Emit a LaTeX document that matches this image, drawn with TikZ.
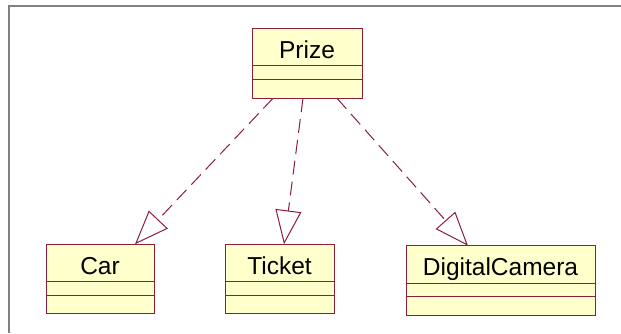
\documentclass[tikz,border=0pt]{standalone}
\usepackage{fontspec}
\setmainfont{Liberation Sans}
\usetikzlibrary{positioning,arrows.meta}
\definecolor{rose}{RGB}{140,30,60}
\definecolor{pad}{RGB}{255,255,204}
\tikzstyle{cls}=[fill=pad, draw=rose, shape=rectangle, line width=1pt, inner sep=0pt, outer sep=0pt]
\tikzstyle{clstop}=[cls, minimum height=37.5pt, text height=22pt, text depth=0pt, font=\fontsize{24.5}{28}\selectfont]
\tikzstyle{clsslot}=[cls, minimum height=13.5pt]
\tikzstyle{gen}=[draw=rose, line width=1pt, dash pattern=on 14pt off 7pt, -{Triangle[open, length=34pt, width=26pt]}]

\begin{document}
\begin{tikzpicture}[x=1pt, y=-1pt]
		\useasboundingbox (0, 0) rectangle (621, 333);
		\fill [white] (0, 0) rectangle (621, 333);
		\draw [gray, line width=1.5pt] (9, 333) -- (9, 6) -- (621, 6);

		\node [style=clstop, minimum width=110pt] (1) at (307, 47) {Prize};
		\node [style=clsslot, minimum width=110pt, below=0pt of 1] (2) {};
		\node [style=clsslot, minimum width=110pt, minimum height=19pt, below=0pt of 2] (3) {};

		\node [style=clstop, minimum width=108pt] (4) at (100, 263) {Car};
		\node [style=clsslot, minimum width=108pt, below=0pt of 4] (5) {};
		\node [style=clsslot, minimum width=108pt, minimum height=18.5pt, below=0pt of 5] (6) {};

		\node [style=clstop, minimum width=109pt] (7) at (279.5, 263) {Ticket};
		\node [style=clsslot, minimum width=109pt, below=0pt of 7] (8) {};
		\node [style=clsslot, minimum width=109pt, minimum height=18.5pt, below=0pt of 8] (9) {};

		\node [style=clstop, minimum width=189pt] (10) at (500.5, 264.5) {DigitalCamera};
		\node [style=clsslot, minimum width=189pt, below=0pt of 10] (11) {};
		\node [style=clsslot, minimum width=189pt, minimum height=18.5pt, below=0pt of 11] (12) {};

		\draw [style=gen] ([xshift=-34pt]3.south) to ([xshift=35pt]4.north);
		\draw [style=gen] ([xshift=-4pt]3.south) to ([xshift=4.5pt]7.north);
		\draw [style=gen] ([xshift=30pt]3.south) to ([xshift=-32.5pt]10.north);
	\end{tikzpicture}
\end{document}
